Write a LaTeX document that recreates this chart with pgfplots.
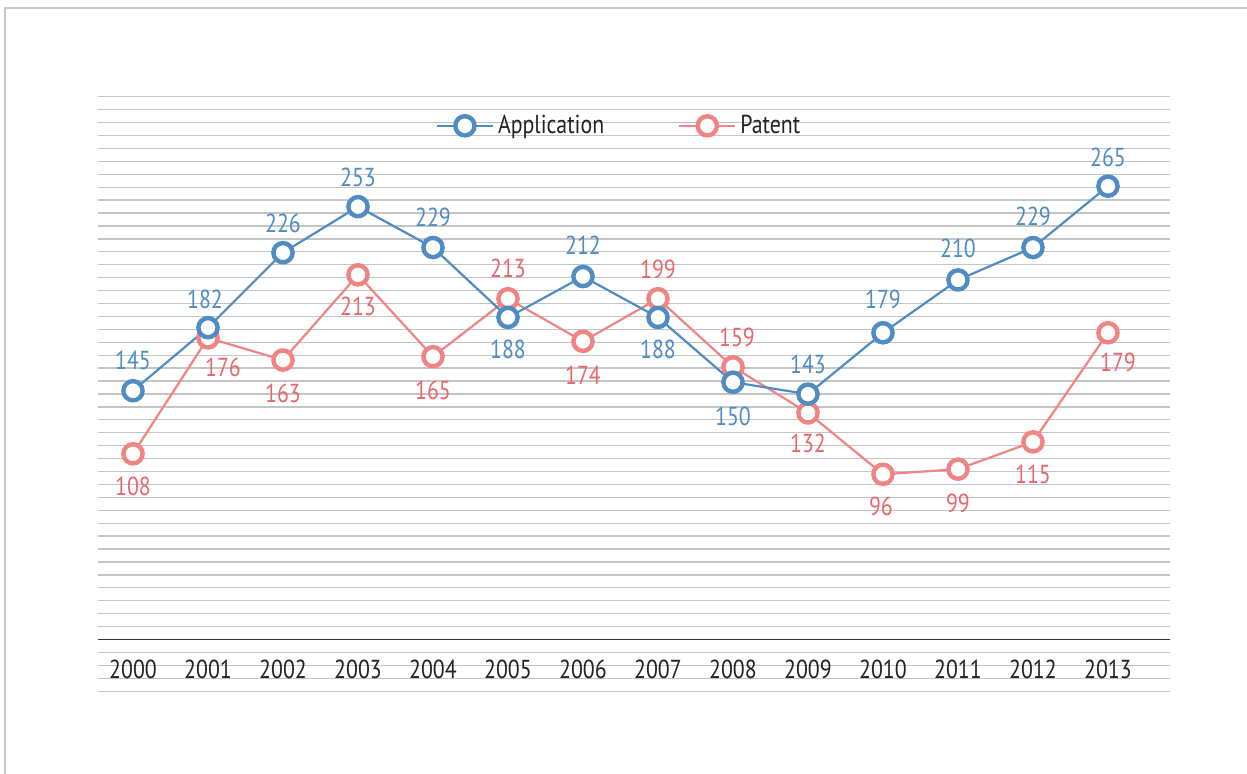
\documentclass[border=0pt]{standalone}
\usepackage{pgfplots}
\pgfplotsset{compat=1.18}
\usepackage{pgfplotstable}
\usepackage{fontspec}
\setmainfont{PT Sans}[FakeStretch=0.84]
\definecolor{appc}{HTML}{4F8CC4}
\definecolor{patc}{HTML}{F08482}
\definecolor{patl}{HTML}{E8676B}
\definecolor{gridc}{HTML}{C4C4C4}
\definecolor{framec}{HTML}{C8C8C8}
\definecolor{txt}{HTML}{222222}

\pgfplotstableread{
x y lab dx dy
0 145 145 0 15
1 182 182 -1.5 14
2 226 226 0 14.5
3 253 253 0 14.5
4 229 229 0 15
5 188 188 0 -16
6 212 212 0 15.5
7 188 188 0 -16
8 150 150 0 -17
9 143 143 0 15
10 179 179 0 16.5
11 210 210 0 16
12 229 229 0 15.5
13 265 265 0 14.5
}\app

\pgfplotstableread{
x y lab dx dy
0 108 108 0 -16.5
1 176 176 7.5 -14.5
2 163 163 0 -16.5
3 213 213 0 -16
4 165 165 0 -17
5 199 213 0 15
6 174 174 0 -17
7 199 199 0 14.5
8 159 159 2 14.5
9 132 132 0 -15
10 96 96 -1 -16
11 99 99 0 -17
12 115 115 0 -16.5
13 179 179 5 -15
}\pat

\begin{document}
\begin{tikzpicture}[font=\fontsize{13}{15}\selectfont]
\useasboundingbox (0,0) rectangle (623.5pt,387pt);
\draw[framec, line width=1pt] (2.5pt,0) -- (2.5pt,383pt) -- (623.5pt,383pt);
\begin{axis}[
  at={(49pt,41.35pt)}, anchor=south west,
  scale only axis, width=536pt, height=297.3pt,
  xmin=-0.4667, xmax=13.827, ymin=-31.3, ymax=317.5,
  axis line style={draw=none}, major tick length=0pt,
  xtick={0,...,13},
  xticklabels={2000,2001,2002,2003,2004,2005,2006,2007,2008,2009,2010,2011,2012,2013},
  x tick label style={anchor=center, yshift=11pt, text=txt},
  ytick={-31.26,-23.679,...,318}, yticklabels={},
  ymajorgrids, major grid style={gridc, line width=0.65pt},
  extra y ticks={-0.94}, extra y tick labels={},
  extra y tick style={major grid style={black!80, line width=0.7pt}},
  reverse legend,
  legend columns=2,
  legend style={at={(0.487,0.951)}, anchor=center, draw=none, fill=none,
    text=txt, /tikz/every even column/.append style={column sep=35pt}},
  legend image code/.code={\draw[mark repeat=2,mark phase=2,#1] plot coordinates {(-1pt,0pt)(13pt,0pt)(27pt,0pt)};},
]
\addplot[patc, line width=1.1pt, mark=*, mark size=4.8pt, mark options={solid, fill=white, line width=2.2pt}] table[x=x,y=y]{\pat};
\addlegendentry{Patent}
\addplot[appc, line width=1.1pt, mark=*, mark size=4.8pt, mark options={solid, fill=white, line width=2.2pt}] table[x=x,y=y]{\app};
\addlegendentry{Application}
\addplot[forget plot, draw=none, mark=none, nodes near coords, point meta=explicit symbolic,
  visualization depends on={\thisrow{dx}\as\dx},
  visualization depends on={\thisrow{dy}\as\dy},
  nodes near coords style={anchor=center, xshift=\dx pt, yshift=\dy pt, text=appc, inner sep=0pt}]
  table[x=x,y=y,meta=lab]{\app};
\addplot[forget plot, draw=none, mark=none, nodes near coords, point meta=explicit symbolic,
  visualization depends on={\thisrow{dx}\as\dx},
  visualization depends on={\thisrow{dy}\as\dy},
  nodes near coords style={anchor=center, xshift=\dx pt, yshift=\dy pt, text=patl, inner sep=0pt}]
  table[x=x,y=y,meta=lab]{\pat};
\end{axis}
\end{tikzpicture}
\end{document}
